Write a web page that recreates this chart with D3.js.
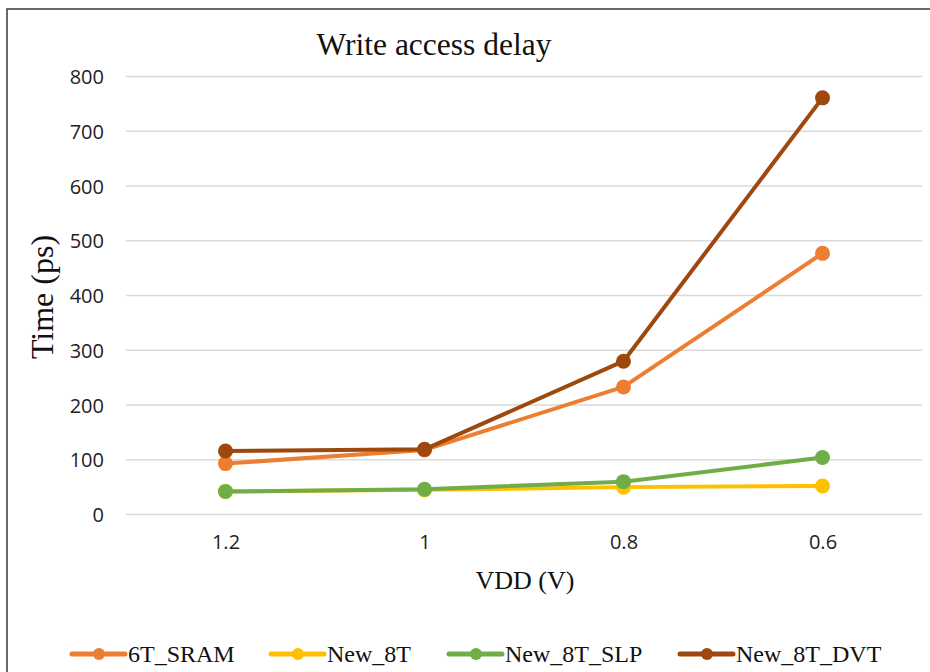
<!DOCTYPE html>
<html><head><meta charset="utf-8">
<script src="https://cdn.jsdelivr.net/npm/d3@7"></script>
<style>body{margin:0;background:#fff}svg{display:block}</style>
</head><body>
<svg id="c" width="930" height="672"></svg>
<script>
const categories = ["1.2", "1", "0.8", "0.6"];
const seriesNames = ["6T_SRAM", "New_8T", "New_8T_SLP", "New_8T_DVT"];
const sram6T   = [93, 118, 233, 477];
const new8T    = [42, 45, 50, 52];
const new8TSLP = [42, 46, 60, 104];
const new8TDVT = [116, 119, 280, 761];
const yTicks = [0, 100, 200, 300, 400, 500, 600, 700, 800];
const colors = ["#ED7D31", "#FFC000", "#70AD47", "#9E480E"];

const seriesValues = [sram6T, new8T, new8TSLP, new8TDVT];
const svg = d3.select("#c");

// outer border
svg.append("rect").attr("x", 7).attr("y", 9).attr("width", 940).attr("height", 700)
  .attr("fill", "none").attr("stroke", "#3a3a3a").attr("stroke-width", 1.5);

const x = d3.scalePoint().domain(categories).range([126, 922]).padding(0.5);
const y = d3.scaleLinear().domain([0, 800]).range([514.5, 76.5]);

// gridlines
svg.append("g").selectAll("line").data(yTicks).join("line")
  .attr("x1", 126).attr("x2", 922)
  .attr("y1", d => y(d)).attr("y2", d => y(d))
  .attr("stroke", "#d9d9d9").attr("stroke-width", 1.5);

// y axis
const yAxis = d3.axisLeft(y).tickValues(yTicks).tickSize(0).tickPadding(0);
const gy = svg.append("g").attr("transform", "translate(104,0)").call(yAxis);
gy.select(".domain").remove();
gy.selectAll("text").attr("font-family", "'Open Sans', sans-serif").attr("font-size", 20)
  .attr("fill", "#222").attr("dy", "0.35em");

// x axis
const xAxis = d3.axisBottom(x).tickSize(0).tickPadding(0);
const gx = svg.append("g").attr("transform", "translate(0,535)").call(xAxis);
gx.select(".domain").remove();
gx.selectAll("text").attr("font-family", "'Open Sans', sans-serif").attr("font-size", 20)
  .attr("fill", "#222").attr("dy", "0.71em");

// title & axis titles
svg.append("text").attr("x", 434).attr("y", 55).attr("text-anchor", "middle")
  .attr("font-family", "'Liberation Serif', 'Times New Roman', serif").attr("font-size", 31.5)
  .attr("fill", "#111").text("Write access delay");
svg.append("text").attr("transform", "translate(53,297) rotate(-90)").attr("text-anchor", "middle")
  .attr("font-family", "'Liberation Serif', 'Times New Roman', serif").attr("font-size", 32)
  .attr("fill", "#111").text("Time (ps)");
svg.append("text").attr("x", 525).attr("y", 589).attr("text-anchor", "middle")
  .attr("font-family", "'Liberation Serif', 'Times New Roman', serif").attr("font-size", 26)
  .attr("fill", "#111").text("VDD (V)");

// series
const line = d3.line().x((d, i) => x(categories[i])).y(d => y(d));
seriesValues.forEach((vals, si) => {
  const g = svg.append("g");
  g.append("path").datum(vals).attr("d", line).attr("fill", "none")
    .attr("stroke", colors[si]).attr("stroke-width", 4).attr("stroke-linejoin", "round");
  g.selectAll("circle").data(vals).join("circle")
    .attr("cx", (d, i) => x(categories[i])).attr("cy", d => y(d)).attr("r", 7.5)
    .attr("fill", colors[si]);
});

// legend
const legendX = [72, 271, 449, 680];
const lg = svg.append("g");
seriesNames.forEach((name, i) => {
  const gx0 = legendX[i];
  lg.append("line").attr("x1", gx0).attr("x2", gx0 + 53).attr("y1", 654).attr("y2", 654)
    .attr("stroke", colors[i]).attr("stroke-width", 5).attr("stroke-linecap", "round");
  lg.append("circle").attr("cx", gx0 + 27).attr("cy", 654).attr("r", 6).attr("fill", colors[i]);
  lg.append("text").attr("x", gx0 + 56).attr("y", 662)
    .attr("font-family", "'Liberation Serif', 'Times New Roman', serif").attr("font-size", 24)
    .attr("fill", "#111").text(name);
});
</script>
</body></html>
